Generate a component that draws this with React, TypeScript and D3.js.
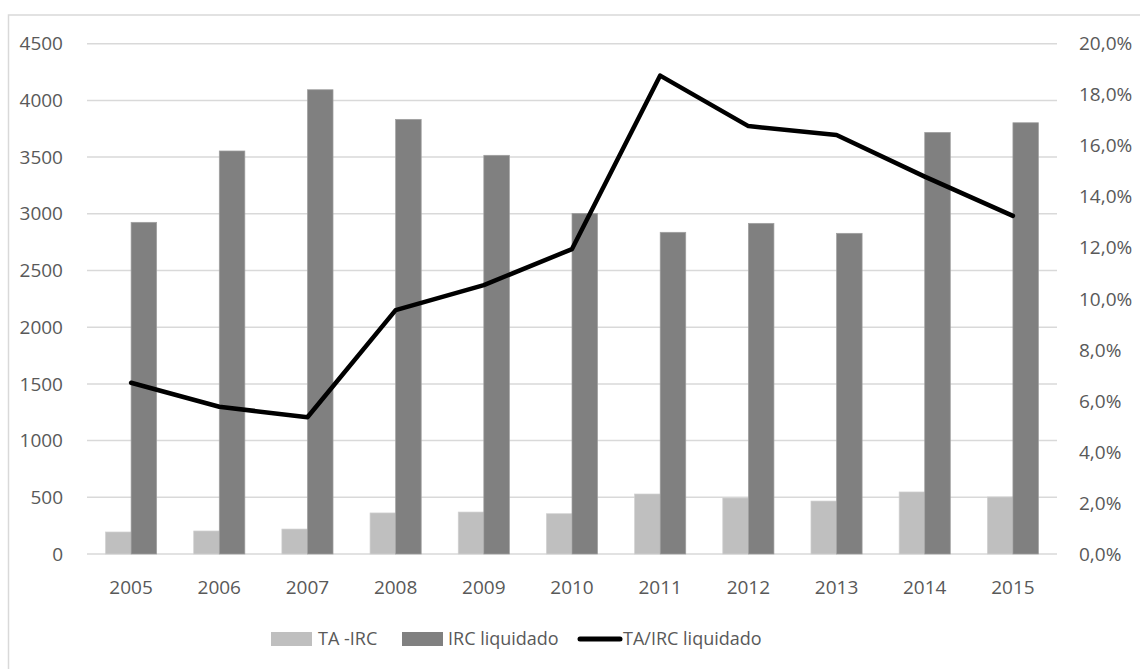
import React from "react";
import * as d3 from "d3";

const years = ["2005", "2006", "2007", "2008", "2009", "2010", "2011", "2012", "2013", "2014", "2015"];
const taIrc = [194, 203, 220, 362, 370, 355, 529, 494, 467, 547, 503];
const ircLiquidado = [2925, 3554, 4094, 3833, 3516, 3004, 2837, 2916, 2828, 3718, 3803];
const ratio = [6.71, 5.77, 5.36, 9.56, 10.54, 11.95, 18.75, 16.77, 16.42, 14.79, 13.25];
const leftTicks = [0, 500, 1000, 1500, 2000, 2500, 3000, 3500, 4000, 4500];
const rightTicks = [0, 2, 4, 6, 8, 10, 12, 14, 16, 18, 20];
const seriesNames = ["TA -IRC", "IRC liquidado", "TA/IRC liquidado"];

const W = 1140;
const H = 669;
const plotL = 87;
const plotR = 1057;
const plotT = 43.7;
const plotB = 554;

const FONT = "'Open Sans', sans-serif";
const TXT = "#595959";

export default function App() {
  const x = d3.scaleBand<string>().domain(years).range([plotL, plotR]).paddingInner(0).paddingOuter(0);
  const yL = d3.scaleLinear().domain([0, 4500]).range([plotB, plotT]);
  const yR = d3.scaleLinear().domain([0, 20]).range([plotB, plotT]);
  const barW = x.bandwidth() * 0.29;
  const cx = (y: string) => (x(y) as number) + x.bandwidth() / 2;

  const line = d3
    .line<number>()
    .x((_, i) => cx(years[i]))
    .y((d) => yR(d));

  return (
    <svg width={W} height={H} style={{ position: "absolute", left: 0, top: 0, background: "#fff" }} fontFamily={FONT}>
      <rect x={0} y={0} width={W} height={H} fill="#fff" />
      {/* chart border (only top & left visible) */}
      <path d={`M8.5,${H} L8.5,15 L${W},15`} fill="none" stroke="#d9d9d9" strokeWidth={1.5} />
      {/* grid */}
      {leftTicks.map((t) => (
        <line key={t} x1={plotL} x2={plotR} y1={yL(t)} y2={yL(t)} stroke="#d9d9d9" strokeWidth={1.5} />
      ))}
      {/* bars */}
      {years.map((yr, i) => (
        <g key={yr}>
          <rect x={cx(yr) - barW} y={yL(taIrc[i])} width={barW} height={plotB - yL(taIrc[i])} fill="#bfbfbf" stroke="#d0d0d0" strokeWidth={0.7} />
          <rect x={cx(yr)} y={yL(ircLiquidado[i])} width={barW} height={plotB - yL(ircLiquidado[i])} fill="#808080" stroke="#a0a0a0" strokeWidth={0.7} />
        </g>
      ))}
      {/* line */}
      <path d={line(ratio) as string} fill="none" stroke="#000" strokeWidth={4.5} strokeLinejoin="round" strokeLinecap="round" />
      {/* left axis labels */}
      {leftTicks.map((t) => (
        <text key={t} x={63} y={yL(t)} dy="0.35em" textAnchor="end" fontSize={19} fill={TXT}>
          {t}
        </text>
      ))}
      {/* right axis labels */}
      {rightTicks.map((t) => (
        <text key={t} x={1079} y={yR(t)} dy="0.35em" textAnchor="start" fontSize={19} fill={TXT}>
          {t.toFixed(1).replace(".", ",") + "%"}
        </text>
      ))}
      {/* x labels */}
      {years.map((yr) => (
        <text key={yr} x={cx(yr)} y={587} dy="0.35em" textAnchor="middle" fontSize={19} fill={TXT}>
          {yr}
        </text>
      ))}
      {/* legend */}
      <g>
        <rect x={271} y={632} width={41} height={14} fill="#bfbfbf" />
        <text x={318} y={639} dy="0.35em" fontSize={18} fill={TXT}>{seriesNames[0]}</text>
        <rect x={402} y={632} width={41} height={14} fill="#808080" />
        <text x={448} y={639} dy="0.35em" fontSize={18} fill={TXT}>{seriesNames[1]}</text>
        <line x1={580} x2={620} y1={639} y2={639} stroke="#000" strokeWidth={5} strokeLinecap="round" />
        <text x={623} y={639} dy="0.35em" fontSize={18} fill={TXT}>{seriesNames[2]}</text>
      </g>
    </svg>
  );
}
